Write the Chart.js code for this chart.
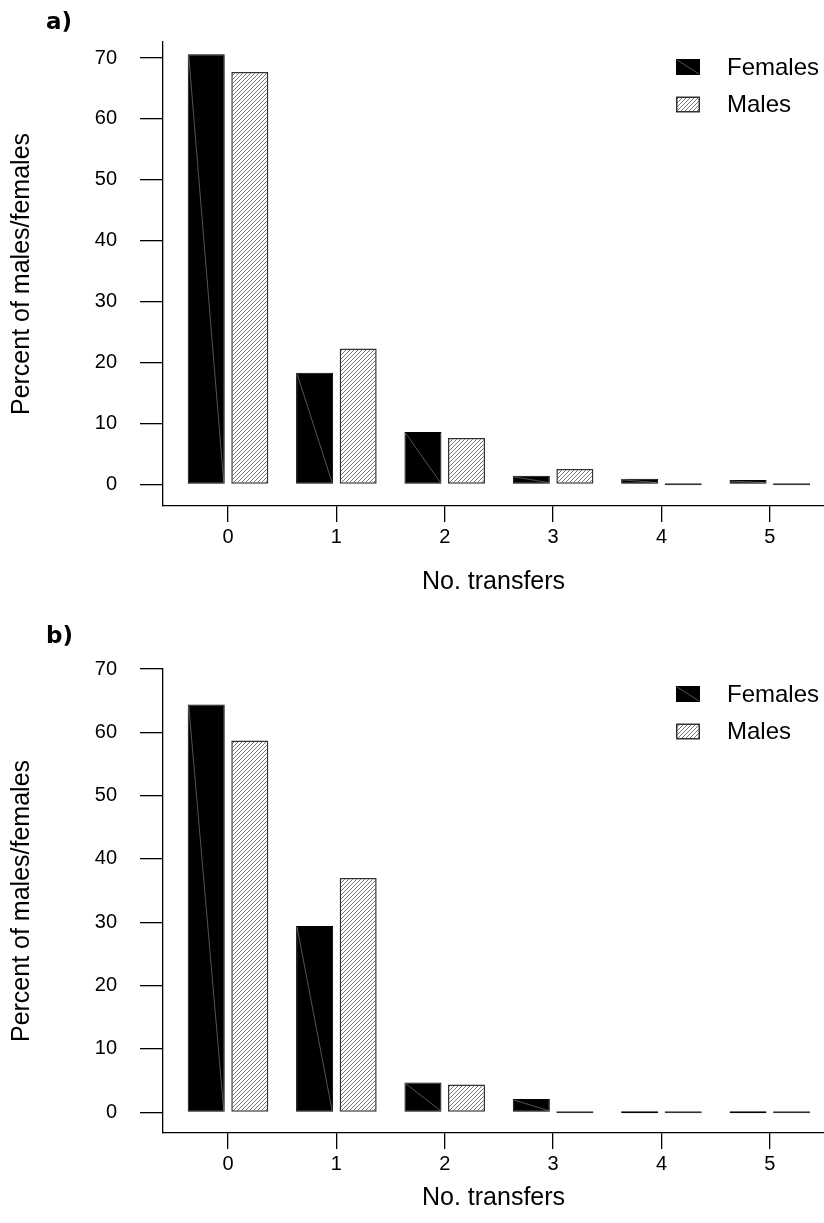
<!DOCTYPE html>
<html>
<head>
<meta charset="utf-8">
<script src="https://cdn.jsdelivr.net/npm/chart.js@4.4.1/dist/chart.umd.min.js"></script>
<style>
  body { margin: 0; background: #fff; }
  canvas { display: block; }
</style>
</head>
<body>
<canvas id="chartA" width="824" height="612"></canvas>
<canvas id="chartB" width="824" height="611"></canvas>
<script>
const transfers = [0, 1, 2, 3, 4, 5];
const yTicks = [0, 10, 20, 30, 40, 50, 60, 70];
const seriesNames = ['Females', 'Males'];

// panel a)
const femalesA = [70.6, 18.3, 8.6, 1.4, 0.9, 0.7];
const malesA = [67.7, 22.3, 7.6, 2.5, 0, 0];

// panel b)
const femalesB = [64.4, 29.4, 4.7, 2.1, 0, 0];
const malesB = [58.7, 37.0, 4.4, 0, 0, 0];

const FONT = "'Liberation Sans', Arial, sans-serif";

// diagonal hatching for the male bars
function hatch() {
    const c = document.createElement('canvas');
    c.width = 4;
    c.height = 4;
    const g = c.getContext('2d');
    g.fillStyle = '#fff';
    g.fillRect(0, 0, 4, 4);
    g.strokeStyle = '#666';
    g.lineWidth = 0.9;
    g.beginPath();
    g.moveTo(0, 4); g.lineTo(4, 0);
    g.moveTo(-1, 1); g.lineTo(1, -1);
    g.moveTo(3, 5); g.lineTo(5, 3);
    g.stroke();
    return g.createPattern(c, 'repeat');
}

// "a)" / "b)" in the top left corner
const panelLabel = {
    id: 'panelLabel',
    afterDraw(chart, args, opts) {
        const ctx = chart.ctx;
        ctx.save();
        ctx.font = "bold 23px 'DejaVu Sans', sans-serif";
        ctx.fillStyle = '#000';
        ctx.textBaseline = 'middle';
        ctx.fillText(opts.text, 46, opts.y);
        ctx.restore();
    }
};

// the thin grey streak running across each solid bar
function streak(ctx, x0, y0, x1, y1) {
    ctx.beginPath();
    ctx.moveTo(x0, y0);
    ctx.lineTo(x1, y1);
    ctx.stroke();
}

const femaleStreak = {
    id: 'femaleStreak',
    afterDatasetsDraw(chart) {
        const ctx = chart.ctx;
        const meta = chart.getDatasetMeta(0);
        ctx.save();
        ctx.strokeStyle = 'rgba(150,150,150,0.8)';
        ctx.lineWidth = 0.7;
        meta.data.forEach(bar => {
            const p = bar.getProps(['x', 'y', 'base', 'width'], true);
            if (Math.abs(p.base - p.y) < 3) return;
            streak(ctx, p.x - p.width / 2 + 1, p.y + 1, p.x + p.width / 2 - 1, p.base - 1);
        });
        ctx.restore();
    }
};

// legend in the upper right of the plot
const sideLegend = {
    id: 'sideLegend',
    afterDraw(chart) {
        const ctx = chart.ctx;
        const top = chart.chartArea.top;
        const rows = [top + 25, top + 62.5];
        ctx.save();
        chart.data.datasets.forEach((ds, i) => {
            const cy = rows[i];
            ctx.fillStyle = ds.borderColor;
            ctx.fillRect(676, cy - 8, 24, 16);
            ctx.fillStyle = ds.backgroundColor;
            const b = i === 0 ? 0 : 1.5;
            ctx.fillRect(676 + b, cy - 8 + b, 24 - 2 * b, 16 - 2 * b);
            if (i === 0) {
                ctx.strokeStyle = 'rgba(150,150,150,0.8)';
                ctx.lineWidth = 0.7;
                streak(ctx, 677, cy - 7, 699, cy + 7);
            }
            ctx.fillStyle = '#000';
            ctx.font = '24px ' + FONT;
            ctx.textBaseline = 'middle';
            ctx.fillText(ds.label, 727, cy + 1);
        });
        ctx.restore();
    }
};

function makeChart(id, label, females, males, cfg) {
    const datasets = [
        {
            label: seriesNames[0],
            data: transfers.map((t, i) => ({ x: t, y: females[i] })),
            backgroundColor: '#000',
            borderColor: '#000',
            borderWidth: 1
        },
        {
            label: seriesNames[1],
            data: transfers.map((t, i) => ({ x: t, y: males[i] })),
            backgroundColor: hatch(),
            borderColor: '#333',
            borderWidth: 1.5
        }
    ];
    datasets.forEach(ds => {
        ds.categoryPercentage = 0.804;
        ds.barPercentage = 0.85;
        ds.minBarLength = 2;
        ds.borderSkipped = false;
    });

    return new Chart(document.getElementById(id), {
        type: 'bar',
        data: { datasets: datasets },
        options: {
            responsive: false,
            animation: false,
            devicePixelRatio: 1,
            layout: { padding: { top: cfg.top, left: 0, right: 0, bottom: 0 } },
            scales: {
                x: {
                    type: 'linear',
                    min: -0.6,
                    max: 5.5,
                    offset: false,
                    afterBuildTicks: s => { s.ticks = transfers.map(v => ({ value: v })); },
                    afterFit: s => { s.height = cfg.xHeight; },
                    grid: { offset: false, drawOnChartArea: false, drawTicks: true, tickLength: 16, tickColor: '#000', lineWidth: 1.3 },
                    border: { display: true, color: '#000', width: 1.3 },
                    ticks: { font: { family: FONT, size: 20 }, color: '#000', padding: 3, maxRotation: 0 },
                    title: {
                        display: true,
                        text: 'No. transfers',
                        font: { family: FONT, size: 25 },
                        color: '#000',
                        padding: { top: 0, bottom: cfg.titlePad }
                    }
                },
                y: {
                    min: cfg.yMin,
                    max: cfg.yMax,
                    afterBuildTicks: s => { s.ticks = yTicks.map(v => ({ value: v })); },
                    afterFit: s => { s.width = 163; },
                    grid: { drawOnChartArea: false, drawTicks: true, tickLength: 23, tickColor: '#000', lineWidth: 1.3 },
                    border: { display: true, color: '#000', width: 1.3 },
                    ticks: { font: { family: FONT, size: 20 }, color: '#000', padding: 23 },
                    title: {
                        display: true,
                        text: 'Percent of males/females',
                        font: { family: FONT, size: 25 },
                        color: '#000',
                        padding: { top: 7, bottom: 0 }
                    }
                }
            },
            plugins: {
                legend: { display: false },
                tooltip: { enabled: false },
                panelLabel: { text: label, y: cfg.labelY }
            }
        },
        plugins: [panelLabel, femaleStreak, sideLegend]
    });
}

makeChart('chartA', 'a)', femalesA, malesA,
    { top: 42, xHeight: 106, yMin: -3.56, yMax: 72.63, titlePad: 15, labelY: 23 });
makeChart('chartB', 'b)', femalesB, malesB,
    { top: 57, xHeight: 90, yMin: -3.27, yMax: 70, titlePad: 10, labelY: 25 });
</script>
</body>
</html>
